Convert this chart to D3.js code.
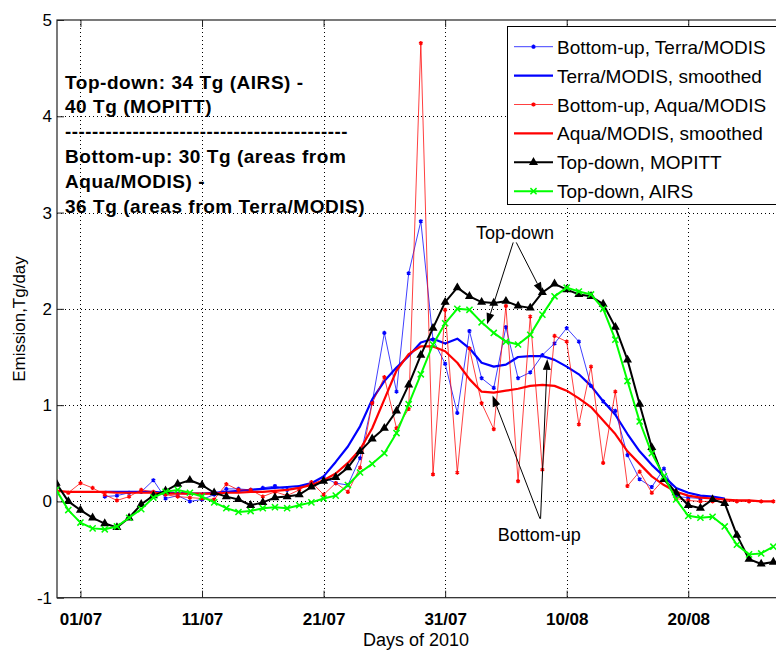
<!DOCTYPE html>
<html>
<head>
<meta charset="utf-8">
<script src="https://cdn.jsdelivr.net/npm/d3@7"></script>
<style>
  body { margin: 0; background: #fff; }
  svg { display: block; font-family: "Liberation Sans", Arial, Helvetica, sans-serif; }
</style>
</head>
<body>
<svg id="chart" width="776" height="653"></svg>
<script>
// day 0 = 01 July 2010, series run daily from 29 June (day -2) to 27 August (day 57)
var days = d3.range(-2, 58);

var terraRaw = [null, null, null, null, 0.05, 0.06, 0.09, 0.10, 0.22, 0.03,
  0.06, 0.00, 0.02, 0.07, 0.13, 0.13, 0.12, 0.14, 0.16, 0.12,
  0.15, 0.18, 0.25, 0.19, 0.17, 0.45, 1.03, 1.75, 1.14, 2.37,
  2.91, 1.68, 1.43, 0.92, 1.77, 1.28, 1.18, 1.81, 1.28, 1.34,
  1.52, 1.64, 1.80, 1.66, 1.20, 1.04, 0.94, 0.48, 0.23, 0.15,
  0.34, 0.05, 0.04, 0.03, null, null, null, null, null, null];

var terraSmooth = [null, null, null, null, 0.10, 0.10, 0.10, 0.10, 0.10, 0.09,
  0.09, 0.08, 0.08, 0.09, 0.10, 0.11, 0.12, 0.13, 0.14, 0.15,
  0.16, 0.19, 0.26, 0.41, 0.57, 0.78, 1.06, 1.25, 1.39, 1.51,
  1.65, 1.69, 1.64, 1.69, 1.59, 1.44, 1.40, 1.42, 1.50, 1.51,
  1.51, 1.47, 1.40, 1.32, 1.20, 1.04, 0.90, 0.70, 0.52, 0.38,
  0.26, 0.14, 0.09, 0.06, 0.05, 0.03, null, null, null, null];

var aquaRaw = [0.12, 0.09, 0.19, 0.14, 0.07, 0.01, 0.05, 0.12, 0.10, 0.07,
  0.05, 0.04, 0.03, 0.02, 0.18, 0.12, 0.12, 0.05, 0.10, 0.06,
  0.12, 0.20, 0.07, 0.19, 0.10, 0.35, 1.02, 1.29, 0.76, 0.96,
  4.76, 0.28, 1.99, 0.30, 1.59, 1.02, 0.75, 2.03, 0.21, 1.92,
  0.33, 1.72, 1.66, 0.80, 1.40, 0.40, 1.14, 0.16, 0.31, 0.09,
  0.23, 0.03, 0.01, 0.00, 0.00, 0.00, 0.00, 0.00, 0.00, 0.00];

var aquaSmooth = [0.11, 0.10, 0.10, 0.10, 0.10, 0.09, 0.09, 0.09, 0.09, 0.08,
  0.08, 0.08, 0.08, 0.08, 0.09, 0.09, 0.10, 0.10, 0.11, 0.12,
  0.14, 0.17, 0.22, 0.29, 0.40, 0.54, 0.76, 1.06, 1.36, 1.53,
  1.61, 1.61, 1.56, 1.44, 1.27, 1.14, 1.13, 1.15, 1.17, 1.20,
  1.21, 1.20, 1.15, 1.07, 0.98, 0.84, 0.70, 0.52, 0.39, 0.26,
  0.17, 0.10, 0.06, 0.04, 0.03, 0.02, 0.01, 0.01, 0.00, 0.00];

var mopitt = [0.19, 0.00, -0.09, -0.17, -0.23, -0.27, -0.17, -0.03, 0.06, 0.11,
  0.18, 0.22, 0.17, 0.09, 0.05, 0.02, -0.04, -0.01, 0.04, 0.05,
  0.07, 0.15, 0.21, 0.25, 0.35, 0.52, 0.65, 0.76, 0.94, 1.21,
  1.52, 1.80, 2.07, 2.22, 2.13, 2.07, 2.06, 2.08, 2.03, 2.01,
  2.17, 2.26, 2.20, 2.15, 2.13, 2.05, 1.81, 1.47, 1.01, 0.56,
  0.23, 0.09, -0.04, -0.07, 0.02, -0.02, -0.35, -0.60, -0.65, -0.63];

var airs = [0.12, -0.09, -0.22, -0.28, -0.29, -0.26, -0.17, -0.08, 0.04, 0.10,
  0.12, 0.09, 0.05, -0.01, -0.07, -0.11, -0.10, -0.07, -0.06, -0.07,
  -0.04, -0.01, 0.03, 0.06, 0.17, 0.30, 0.39, 0.50, 0.71, 1.01,
  1.32, 1.63, 1.85, 2.00, 1.99, 1.86, 1.75, 1.66, 1.63, 1.73,
  1.94, 2.13, 2.22, 2.18, 2.15, 2.00, 1.68, 1.25, 0.83, 0.50,
  0.26, 0.02, -0.15, -0.17, -0.16, -0.26, -0.45, -0.55, -0.54, -0.47];

var xTickDays = [0, 10, 20, 30, 40, 50];
var xTickLabels = ["01/07", "11/07", "21/07", "31/07", "10/08", "20/08"];
var yTicks = [-1, 0, 1, 2, 3, 4, 5];

var noteLines = [
  "Top-down: 34 Tg (AIRS) -",
  "40 Tg (MOPITT)",
  "------------------------------------------",
  "Bottom-up: 30 Tg (areas from",
  "Aqua/MODIS) -",
  "36 Tg (areas from Terra/MODIS)"
];

var series = [
  {name: "Bottom-up, Terra/MODIS", values: terraRaw, color: "#0000ff", width: 1, opacity: 0.75, marker: "dot"},
  {name: "Terra/MODIS, smoothed", values: terraSmooth, color: "#0000ff", width: 2.2, opacity: 1, marker: null},
  {name: "Bottom-up, Aqua/MODIS", values: aquaRaw, color: "#ff0000", width: 1, opacity: 0.75, marker: "dot"},
  {name: "Aqua/MODIS, smoothed", values: aquaSmooth, color: "#ff0000", width: 2.2, opacity: 1, marker: null},
  {name: "Top-down, MOPITT", values: mopitt, color: "#000000", width: 2, opacity: 1, marker: "tri"},
  {name: "Top-down, AIRS", values: airs, color: "#00ff00", width: 2, opacity: 1, marker: "x"}
];

var svg = d3.select("#chart");
var pLeft = 57, pTop = 20, pRight = 777, pBottom = 597.7;

var x = d3.scaleLinear().domain([-1.93, 57.3]).range([pLeft, pRight]);
var y = d3.scaleLinear().domain([-1, 5]).range([pBottom, pTop]);

svg.append("defs").append("clipPath").attr("id", "plotclip")
  .append("rect").attr("x", pLeft).attr("y", pTop)
  .attr("width", pRight - pLeft).attr("height", pBottom - pTop);

// grid
var grid = svg.append("g").attr("stroke", "#000").attr("stroke-width", 1)
  .attr("stroke-dasharray", "1,3").attr("shape-rendering", "crispEdges");
grid.selectAll("line.gx").data(xTickDays).enter().append("line")
  .attr("x1", function(d) { return Math.round(x(d)) + 0.5; })
  .attr("x2", function(d) { return Math.round(x(d)) + 0.5; })
  .attr("y1", pTop).attr("y2", pBottom);
grid.selectAll("line.gy").data(yTicks.slice(1, -1)).enter().append("line")
  .attr("y1", function(d) { return Math.round(y(d)) + 0.5; })
  .attr("y2", function(d) { return Math.round(y(d)) + 0.5; })
  .attr("x1", pLeft).attr("x2", pRight);

// axes (MATLAB style: ticks inward, box)
var xAxis = d3.axisBottom(x).tickValues(xTickDays).tickSizeInner(-7).tickSizeOuter(0)
  .tickPadding(15).tickFormat(function(d, i) { return xTickLabels[i]; });
var gx = svg.append("g").attr("transform", "translate(0," + pBottom + ")").call(xAxis);
gx.select(".domain").remove();
gx.selectAll("line").attr("stroke", "#222");
gx.selectAll("text").attr("font-size", 17).attr("font-weight", "bold")
  .attr("font-family", "Liberation Sans, Arial, sans-serif").attr("fill", "#000");

var xTop = d3.axisTop(x).tickValues(xTickDays).tickSizeInner(-7).tickSizeOuter(0).tickFormat("");
var gxt = svg.append("g").attr("transform", "translate(0," + pTop + ")").call(xTop);
gxt.select(".domain").remove();
gxt.selectAll("line").attr("stroke", "#222");

var yAxis = d3.axisLeft(y).tickValues(yTicks).tickSizeInner(-7).tickSizeOuter(0)
  .tickPadding(5).tickFormat(function(d) { return d < 0 ? "-" + Math.abs(d) : String(d); });
var gy = svg.append("g").attr("transform", "translate(" + pLeft + ",0)").call(yAxis);
gy.select(".domain").remove();
gy.selectAll("line").attr("stroke", "#222");
gy.selectAll("text").attr("font-size", 17)
  .attr("font-family", "Liberation Sans, Arial, sans-serif").attr("fill", "#000");

svg.append("rect").attr("x", pLeft).attr("y", pTop)
  .attr("width", pRight - pLeft).attr("height", pBottom - pTop)
  .attr("fill", "none").attr("stroke", "#222").attr("stroke-width", 1.2);

// series
var plot = svg.append("g").attr("clip-path", "url(#plotclip)");

function markerPath(kind) {
  if (kind === "tri") return d3.symbol(d3.symbolTriangle, 18)();
  if (kind === "x") return d3.symbol(d3.symbolTimes, 26)();
  return d3.symbol(d3.symbolAsterisk, 12)();
}

series.forEach(function(s) {
  var pts = days.map(function(d, i) { return {day: d, v: s.values[i]}; })
    .filter(function(p) { return p.v !== null; });
  var line = d3.line().x(function(p) { return x(p.day); }).y(function(p) { return y(p.v); });
  var g = plot.append("g");
  g.append("path").datum(pts).attr("d", line)
    .attr("fill", "none").attr("stroke", s.color).attr("stroke-width", s.width)
    .attr("stroke-opacity", s.opacity).attr("stroke-linejoin", "round");
  if (s.marker) {
    g.selectAll("path.m").data(pts).enter().append("path")
      .attr("d", markerPath(s.marker))
      .attr("transform", function(p) { return "translate(" + x(p.day) + "," + y(p.v) + ")"; })
      .attr("fill", s.marker === "tri" ? s.color : "none")
      .attr("stroke", s.color)
      .attr("stroke-width", s.marker === "dot" ? 1.4 : 1.5);
  }
});

// annotation arrows (positions in data coordinates)
var arrows = [
  {from: [35.6, 2.69], to: [33.45, 1.84]},
  {from: [35.85, 2.69], to: [38.0, 2.16]},
  {from: [37.8, -0.18], to: [33.9, 1.10]},
  {from: [37.85, -0.18], to: [38.4, 1.48]}
];
var ann = svg.append("g");
arrows.forEach(function(a) {
  var x0 = x(a.from[0]), y0 = y(a.from[1]), x1 = x(a.to[0]), y1 = y(a.to[1]);
  var dx = x1 - x0, dy = y1 - y0, len = Math.sqrt(dx * dx + dy * dy);
  var ux = dx / len, uy = dy / len, hl = 11, hw = 4;
  var bx = x1 - ux * hl, by = y1 - uy * hl;
  ann.append("line").attr("x1", x0).attr("y1", y0).attr("x2", bx).attr("y2", by)
    .attr("stroke", "#000").attr("stroke-width", 1);
  ann.append("path")
    .attr("d", "M" + x1 + "," + y1 + "L" + (bx - uy * hw) + "," + (by + ux * hw) +
      "L" + (bx + uy * hw) + "," + (by - ux * hw) + "Z")
    .attr("fill", "#000");
});
ann.append("text").attr("x", x(35.75)).attr("y", y(2.79) + 6)
  .attr("text-anchor", "middle").attr("font-size", 18).text("Top-down");
ann.append("text").attr("x", x(37.75)).attr("y", y(-0.35) + 6)
  .attr("text-anchor", "middle").attr("font-size", 18).text("Bottom-up");

// text block top-left
var note = svg.append("g").attr("font-weight", "bold").attr("font-size", 19);
note.selectAll("text").data(noteLines).enter().append("text")
  .attr("x", 65).attr("y", function(d, i) { return 88.5 + i * 24.8; })
  .attr("letter-spacing", 0.55)
  .each(function(d, i) {
    if (i === 2) d3.select(this).attr("textLength", 283).attr("lengthAdjust", "spacingAndGlyphs");
  })
  .text(function(d) { return d; });

// legend
var legend = svg.append("g");
legend.append("rect").attr("x", 507.5).attr("y", 26.5).attr("width", 269).attr("height", 178)
  .attr("fill", "#fff").attr("stroke", "#000").attr("stroke-width", 1);
var row = legend.selectAll("g.row").data(series).enter().append("g")
  .attr("transform", function(d, i) { return "translate(0," + (46.7 + i * 28.9) + ")"; });
row.append("line").attr("x1", 514).attr("x2", 553).attr("y1", 0).attr("y2", 0)
  .attr("stroke", function(d) { return d.color; })
  .attr("stroke-opacity", function(d) { return d.opacity; })
  .attr("stroke-width", function(d) { return d.width; });
row.filter(function(d) { return d.marker; }).append("path")
  .attr("d", function(d) { return markerPath(d.marker); })
  .attr("transform", "translate(533.5,0)")
  .attr("fill", function(d) { return d.marker === "tri" ? d.color : "none"; })
  .attr("stroke", function(d) { return d.color; })
  .attr("stroke-width", 1.5);
row.append("text").attr("x", 557).attr("y", 7).attr("font-size", 19)
  .text(function(d) { return d.name; });

// axis labels
svg.append("text").attr("x", 416).attr("y", 645.5).attr("text-anchor", "middle")
  .attr("font-size", 18).text("Days of 2010");
svg.append("text").attr("transform", "translate(25,319) rotate(-90)")
  .attr("text-anchor", "middle").attr("font-size", 17).text("Emission,Tg/day");
</script>
</body>
</html>
